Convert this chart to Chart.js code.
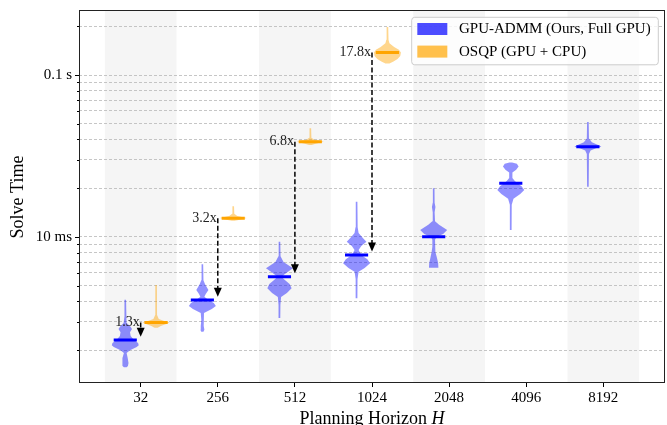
<!DOCTYPE html>
<html>
<head>
<meta charset="utf-8">
<script src="https://cdn.jsdelivr.net/npm/chart.js@4.4.1/dist/chart.umd.min.js"></script>
<style>
  html, body { margin: 0; padding: 0; background: #fff; }
  #wrap { width: 667px; height: 425px; }
</style>
</head>
<body>
<div id="wrap"><canvas id="solve-time"></canvas></div>
<script>
const horizons = ["32", "256", "512", "1024", "2048", "4096", "8192"];
const gpuMedians = [2.31, 4.08, 5.69, 7.74, 10.04, 21.5, 36.1];
const osqpMedians = [2.97, 13.05, 38.7, 137.8];
const speedups = ["1.3x", "3.2x", "6.8x", "17.8x"];
const shadedCols = [0, 2, 4, 6];
const yTicks = [2, 3, 4, 5, 6, 7, 8, 9, 10, 20, 30, 40, 50, 60, 70, 80, 90, 100, 200];
const legendLabels = ["GPU-ADMM (Ours, Full GPU)", "OSQP (GPU + CPU)"];

// violin outlines, top to bottom: [solve time in ms, relative width]
const gpuViolins = [
  [[4.1, 0.06], [3.2, 0.07], [2.94, 0.12], [2.82, 0.35], [2.7, 0.5], [2.58, 0.35], [2.45, 0.4], [2.31, 0.65], [2.22, 0.95], [2.15, 1.0], [2.09, 0.85], [2.0, 0.35], [1.92, 0.1], [1.79, 0.18], [1.67, 0.24], [1.6, 0.2], [1.57, 0.1]],
  [[6.8, 0.06], [5.4, 0.08], [5.1, 0.2], [4.71, 0.45], [4.45, 0.25], [4.28, 0.15], [4.08, 0.45], [3.91, 0.85], [3.75, 1.0], [3.59, 0.7], [3.4, 0.12], [3.07, 0.08], [2.82, 0.12], [2.68, 0.15], [2.6, 0.08]],
  [[9.35, 0.06], [7.6, 0.08], [7.0, 0.3], [6.41, 1.0], [6.0, 0.5], [5.69, 0.15], [5.43, 0.4], [5.13, 0.75], [4.82, 0.9], [4.51, 0.55], [4.26, 0.12], [3.8, 0.07], [3.16, 0.06]],
  [[16.5, 0.06], [11.5, 0.08], [10.6, 0.15], [9.9, 0.45], [9.35, 0.73], [8.8, 0.35], [8.3, 0.15], [7.74, 0.35], [7.3, 0.8], [6.88, 1.0], [6.44, 0.6], [6.1, 0.15], [5.5, 0.07], [4.19, 0.06]],
  [[20, 0.06], [16.3, 0.07], [15.3, 0.13], [14.2, 0.07], [12.5, 0.1], [11.9, 0.4], [11.05, 1.0], [10.43, 0.7], [10.0, 0.2], [9.6, 0.1], [8.7, 0.1], [8.1, 0.15], [7.4, 0.25], [6.9, 0.33], [6.45, 0.35]],
  [[28.8, 0.1], [28.3, 0.45], [27.2, 0.58], [26.0, 0.4], [25.0, 0.12], [23.1, 0.12], [22.2, 0.3], [21.5, 0.5], [20.6, 0.8], [19.5, 1.0], [18.4, 0.7], [17.2, 0.2], [15.8, 0.07], [11.05, 0.06]],
  [[51.3, 0.06], [40.5, 0.08], [38.5, 0.3], [36.8, 0.8], [36.1, 1.0], [35.3, 0.6], [34.2, 0.2], [32.5, 0.08], [20.4, 0.06]],
];
const osqpViolins = [
  [[5.06, 0.06], [3.3, 0.07], [3.12, 0.2], [3.03, 0.6], [2.97, 1.0], [2.9, 0.75], [2.82, 0.35], [2.75, 0.12]],
  [[15.5, 0.06], [13.9, 0.08], [13.5, 0.3], [13.1, 1.0], [12.8, 0.5], [12.6, 0.1]],
  [[47, 0.06], [41, 0.08], [39.8, 0.3], [38.7, 1.0], [37.6, 0.4], [37.0, 0.1]],
  [[198, 0.06], [165, 0.08], [157, 0.15], [149, 0.5], [143, 0.85], [137.8, 1.0], [131, 0.95], [125.6, 0.75], [121, 0.45], [118, 0.15]],
];

const SERIF = '"Liberation Serif", "Times New Roman", serif';
const GPU_FILL = "rgba(0, 0, 255, 0.43)";
const OSQP_FILL = "rgba(255, 165, 0, 0.45)";
const GPU_LINE = "#0000ff";
const OSQP_LINE = "#ffa500";
const OFFSET = 0.2;
const HALF_WIDTH = 0.175;
const MEDIAN_HALF = 0.15;
const TIP_GAP = 1.05;
const SHAFT_GAP = 1.12;

function violinPoints(profile, pos) {
  const right = profile.map(([t, w]) => ({ x: pos + w * HALF_WIDTH, y: t }));
  const left = profile
    .slice()
    .reverse()
    .map(([t, w]) => ({ x: pos - w * HALF_WIDTH, y: t }));
  return right.concat(left);
}

function medianPoints(meds, offset) {
  let pts = [];
  meds.forEach((m, i) => {
    pts.push({ x: i + offset - MEDIAN_HALF, y: m });
    pts.push({ x: i + offset + MEDIAN_HALF, y: m });
    pts.push({ x: i + offset, y: null });
  });
  return pts;
}

function arrowPoints() {
  let pts = [];
  osqpMedians.forEach((m, i) => {
    pts.push({ x: i, y: m });
    pts.push({ x: i, y: gpuMedians[i] * SHAFT_GAP });
    pts.push({ x: i, y: null });
  });
  return pts;
}

let datasets = [];

gpuViolins.forEach((profile, i) => {
  datasets.push({
    data: violinPoints(profile, i - OFFSET),
    backgroundColor: GPU_FILL,
    fill: "shape",
    borderWidth: 0,
    pointRadius: 0,
    order: 5,
  });
});
osqpViolins.forEach((profile, i) => {
  datasets.push({
    data: violinPoints(profile, i + OFFSET),
    backgroundColor: OSQP_FILL,
    fill: "shape",
    borderWidth: 0,
    pointRadius: 0,
    order: 5,
  });
});

datasets.push({
  data: medianPoints(gpuMedians, -OFFSET),
  borderColor: GPU_LINE,
  borderWidth: 3,
  pointRadius: 0,
  fill: false,
  order: 2,
});
datasets.push({
  data: medianPoints(osqpMedians, OFFSET),
  borderColor: OSQP_LINE,
  borderWidth: 3,
  pointRadius: 0,
  fill: false,
  order: 2,
});
datasets.push({
  data: arrowPoints(),
  borderColor: "#000",
  borderWidth: 1.5,
  borderDash: [5, 2.5],
  pointRadius: 0,
  fill: false,
  order: 1,
});

const decor = {
  id: "decor",
  beforeDraw(chart) {
    const { ctx, chartArea: a, scales } = chart;
    const x = scales.x;
    ctx.save();
    ctx.fillStyle = "#f5f5f5";
    shadedCols.forEach((i) => {
      const l = x.getPixelForValue(i - 0.465);
      const r = x.getPixelForValue(i + 0.465);
      ctx.fillRect(l, a.top, r - l, a.bottom - a.top);
    });
    ctx.restore();
  },
  afterDatasetsDraw(chart) {
    const { ctx, chartArea: a, scales } = chart;
    const x = scales.x;
    const y = scales.y;
    ctx.save();

    // arrow heads and speedup labels
    osqpMedians.forEach((m, i) => {
      const px = x.getPixelForValue(i);
      const tip = y.getPixelForValue(gpuMedians[i] * TIP_GAP);
      ctx.fillStyle = "#000";
      ctx.beginPath();
      ctx.moveTo(px, tip);
      ctx.lineTo(px - 4, tip - 9);
      ctx.lineTo(px + 4, tip - 9);
      ctx.closePath();
      ctx.fill();

      ctx.font = "14px " + SERIF;
      ctx.fillStyle = "#222";
      ctx.textAlign = "right";
      ctx.textBaseline = "middle";
      ctx.fillText(speedups[i], px - 1, y.getPixelForValue(m));
    });

    // y tick marks, long on labelled decades
    ctx.strokeStyle = "#000";
    ctx.lineWidth = 1;
    yTicks.forEach((v) => {
      const py = Math.round(y.getPixelForValue(v)) + 0.5;
      const len = v === 10 || v === 100 ? 4 : 2;
      ctx.beginPath();
      ctx.moveTo(a.left - len, py);
      ctx.lineTo(a.left, py);
      ctx.stroke();
    });

    // frame
    ctx.strokeStyle = "#222";
    ctx.strokeRect(a.left + 0.5, a.top + 0.5, a.right - a.left - 1, a.bottom - a.top - 1);
    ctx.restore();
  },
  afterDraw(chart) {
    const { ctx, chartArea: a } = chart;
    ctx.save();

    // legend
    ctx.font = "15px " + SERIF;
    const textW = Math.max(...legendLabels.map((t) => ctx.measureText(t).width));
    const boxW = 5.6 + 30 + 11.7 + textW + 7.6;
    const boxH = 47.5;
    const boxR = a.right - 6.7;
    const boxL = boxR - boxW;
    const boxT = a.top + 7.3;
    ctx.beginPath();
    ctx.roundRect(boxL, boxT, boxW, boxH, 3);
    ctx.fillStyle = "rgba(255, 255, 255, 0.8)";
    ctx.fill();
    ctx.strokeStyle = "#cccccc";
    ctx.lineWidth = 1;
    ctx.stroke();

    const patchColors = ["rgba(0, 0, 255, 0.7)", "rgba(255, 165, 0, 0.7)"];
    legendLabels.forEach((label, k) => {
      const cy = boxT + 11.7 + k * 22.6;
      ctx.fillStyle = patchColors[k];
      ctx.fillRect(boxL + 5.6, cy - 6, 30, 12);
      ctx.fillStyle = "#000";
      ctx.textAlign = "left";
      ctx.textBaseline = "middle";
      ctx.fillText(label, boxL + 5.6 + 30 + 11.7, cy + 0.5);
    });

    // axis titles
    ctx.fillStyle = "#000";
    ctx.font = "18px " + SERIF;
    ctx.save();
    ctx.translate(18.5, (a.top + a.bottom) / 2 + 0.5);
    ctx.rotate(-Math.PI / 2);
    ctx.textAlign = "center";
    ctx.textBaseline = "middle";
    ctx.fillText("Solve Time", 0, 0);
    ctx.restore();

    const part1 = "Planning Horizon ";
    const w1 = ctx.measureText(part1).width;
    ctx.font = "italic 18px " + SERIF;
    const w2 = ctx.measureText("H").width;
    const cx = (a.left + a.right) / 2;
    const start = cx - (w1 + w2) / 2;
    ctx.textAlign = "left";
    ctx.textBaseline = "alphabetic";
    ctx.font = "18px " + SERIF;
    ctx.fillText(part1, start, 424);
    ctx.font = "italic 18px " + SERIF;
    ctx.fillText("H", start + w1, 424);
    ctx.restore();
  },
};

document.addEventListener("DOMContentLoaded", () => {
  Chart.defaults.font.family = SERIF;
  Chart.defaults.color = "#000";

  const ctx = document.getElementById("solve-time").getContext("2d");

  new Chart(ctx, {
    type: "line",
    data: { datasets: datasets },
    options: {
      responsive: true,
      maintainAspectRatio: false,
      animation: false,
      events: [],
      layout: { padding: { top: 10, right: 2, left: 0, bottom: 0 } },
      plugins: {
        legend: { display: false },
        tooltip: { enabled: false },
      },
      elements: { line: { tension: 0 } },
      scales: {
        x: {
          type: "linear",
          min: -0.8,
          max: 6.8,
          afterBuildTicks: (axis) => {
            axis.ticks = horizons.map((_, i) => ({ value: i }));
          },
          afterFit: (axis) => {
            axis.height = 42;
          },
          grid: {
            drawOnChartArea: false,
            drawTicks: true,
            tickLength: 4,
            tickColor: "#000",
            tickWidth: 1,
          },
          border: { display: false },
          ticks: {
            autoSkip: false,
            maxRotation: 0,
            padding: 2,
            color: "#000",
            font: { size: 15 },
            callback: (v) => (Number.isInteger(v) ? horizons[v] : ""),
          },
        },
        y: {
          type: "logarithmic",
          min: 1.255,
          max: 252,
          afterBuildTicks: (axis) => {
            axis.ticks = yTicks.map((v) => ({ value: v }));
          },
          afterFit: (axis) => {
            axis.width = 79;
            axis.paddingTop = 0;
            axis.paddingBottom = 0;
          },
          grid: {
            color: "#b8b8b8",
            lineWidth: 0.8,
            drawTicks: false,
          },
          border: { display: false, dash: [3, 2] },
          ticks: {
            autoSkip: false,
            padding: 7,
            color: "#000",
            font: { size: 15, lineHeight: 0.2 },
            callback: (v) => (v === 10 ? "10 ms" : v === 100 ? "0.1 s" : ""),
          },
        },
      },
    },
    plugins: [decor],
  });
});
</script>
</body>
</html>
